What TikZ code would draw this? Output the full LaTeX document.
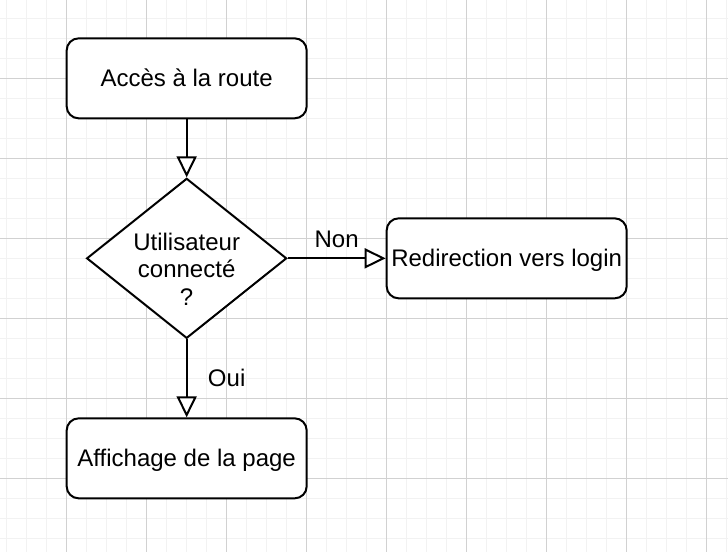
\documentclass[tikz,border=0pt]{standalone}
\usepackage{fontspec}
\setmainfont{Liberation Sans}
\usetikzlibrary{shapes.geometric,arrows.meta}
\tikzset{
  minorgrid/.style={line width=1.5pt, color=black!5},
  majorgrid/.style={line width=1pt, color=black!18},
  txt/.style={font=\fontsize{24pt}{27.5pt}\selectfont, text height=17pt, text depth=0pt, inner sep=0pt},
  procbox/.style={draw=black, fill=white, line width=2pt, rounded corners=12pt, minimum width=240pt, minimum height=80pt, txt},
  decision/.style={draw=black, fill=white, line width=2pt, diamond, minimum width=200pt, minimum height=160pt, inner sep=0pt, aspect=1.25},
  flow/.style={line width=2pt, -{Triangle[fill=white, length=21pt, width=20pt, line width=2pt]}},
  lbl/.style={txt}
}
\begin{document}
\begin{tikzpicture}[x=1pt, y=-1pt]
\useasboundingbox (0,0) rectangle (728,552);
\fill[white] (0,0) rectangle (728,552);
% grid
\foreach \i in {0,...,36} { \draw[minorgrid] ({6.667+20*\i},0) -- ({6.667+20*\i},552); }
\foreach \i in {0,...,26} { \draw[minorgrid] (0,{18.333+20*\i}) -- (728,{18.333+20*\i}); }
\foreach \i in {0,...,8} { \draw[majorgrid] ({66.667+80*\i},0) -- ({66.667+80*\i},552); }
\foreach \i in {0,...,5} { \draw[majorgrid] (0,{78.333+80*\i}) -- (728,{78.333+80*\i}); }
% nodes
\node[procbox] (acces) at (186.667,78.333) {Accès à la route};
\node[decision] (conn) at (186.667,258.333) {};
\node[font=\fontsize{24pt}{27.5pt}\selectfont, align=center, anchor=base, inner sep=0pt] (conntxt) at (186.667,305) {Utilisateur\\connecté\\?};
\node[procbox] (redir) at (506.667,258.333) {Redirection vers login};
\node[procbox] (affich) at (186.667,458.333) {Affichage de la page};
% connectors
\draw[flow] (acces.south) -- (conn.north);
\draw[flow] (conn.east) -- node[lbl, yshift=19.5pt] (non) {Non} (redir.west);
\draw[flow] (conn.south) -- node[lbl, xshift=40pt] (oui) {Oui} (affich.north);
\end{tikzpicture}
\end{document}
